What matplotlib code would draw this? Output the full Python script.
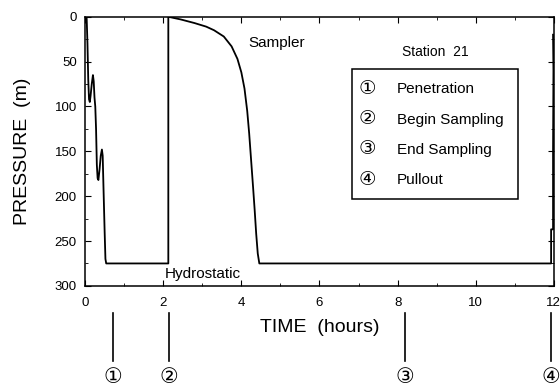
import matplotlib
matplotlib.use("Agg")
import matplotlib.pyplot as plt
from matplotlib.patches import Rectangle
from matplotlib.ticker import MultipleLocator
import matplotlib.transforms as mtransforms

plt.rcParams['font.family'] = ['Liberation Sans', 'DejaVu Sans']

# pressure trace at station 21 (time in hours, pressure in m)
time_h = [0.02, 0.04, 0.06, 0.08, 0.10, 0.12, 0.14, 0.17, 0.20, 0.22, 0.24, 0.26,
          0.28, 0.30, 0.32, 0.34, 0.37, 0.40, 0.43, 0.45, 0.47, 0.50, 0.52, 0.54,
          2.13, 2.13,
          2.45, 2.8, 3.1, 3.3, 3.55, 3.75, 3.9, 4.0, 4.08, 4.15, 4.2, 4.25, 4.3,
          4.34, 4.38, 4.42, 4.46,
          11.93, 11.93, 11.98, 11.98, 11.99, 11.98]
pressure_m = [0, 2, 30, 70, 92, 95, 88, 75, 65, 72, 90, 100,
              125, 165, 180, 182, 170, 155, 148, 155, 190, 240, 270, 275,
              275, 0,
              3, 7, 11, 15, 22, 33, 47, 62, 80, 105, 130, 160, 190,
              215, 242, 264, 275,
              275, 237, 237, 150, 60, 20]

event_times = [0.72, 2.15, 8.19, 11.92]
event_marks = ['①', '②', '③', '④']
event_names = ['Penetration', 'Begin Sampling', 'End Sampling', 'Pullout']

fig = plt.figure(figsize=(5.6, 3.9), dpi=100)
ax = fig.add_axes([0.152, 0.267, 0.837, 0.690])

ax.plot(time_h, pressure_m, color='black', lw=1.3)

ax.set_xlim(0, 12)
ax.set_ylim(300, 0)
ax.xaxis.set_major_locator(MultipleLocator(2))
ax.xaxis.set_minor_locator(MultipleLocator(1))
ax.yaxis.set_major_locator(MultipleLocator(50))
ax.yaxis.set_minor_locator(MultipleLocator(25))
ax.tick_params(which='both', direction='in', top=True, right=True, labelsize=9.5)
ax.tick_params(axis='x', which='major', pad=8)
ax.tick_params(axis='y', which='major', pad=6)
ax.tick_params(which='major', length=4)
ax.tick_params(which='minor', length=2)
for s in ax.spines.values():
    s.set_linewidth(1.1)

ax.set_xlabel('TIME  (hours)', fontsize=14, labelpad=7)
ax.set_ylabel('PRESSURE  (m)', fontsize=14, labelpad=17)

ax.text(4.91, 29, 'Sampler', fontsize=11, ha='center', va='center')
ax.text(2.05, 287, 'Hydrostatic', fontsize=11, ha='left', va='center')
ax.text(8.96, 39, 'Station  21', fontsize=10, ha='center', va='center')

# key box for the event numbers
ax.add_patch(Rectangle((6.83, 58), 11.08 - 6.83, 203 - 58, fill=False,
                       edgecolor='black', lw=1.1))
rows = [81, 115, 148, 182]
for mark, name, y in zip(event_marks, event_names, rows):
    ax.text(7.22, y, mark, fontsize=14, ha='center', va='center')
    ax.text(7.98, y, name, fontsize=11, ha='left', va='center')

# event markers below the time axis
trans = mtransforms.blended_transform_factory(ax.transData, fig.transFigure)
for t, mark in zip(event_times, event_marks):
    ax.plot([t, t], [0.197, 0.075], color='black', lw=1.2,
            transform=trans, clip_on=False)
    ax.text(t, 0.031, mark, fontsize=15, ha='center', va='center',
            transform=trans)

fig.savefig('out.png', dpi=100)
